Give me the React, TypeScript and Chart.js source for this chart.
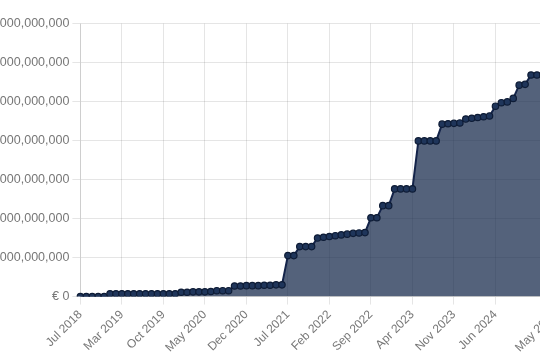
import React, { useEffect, useRef } from "react";
import { Chart, registerables } from "chart.js";

Chart.register(...registerables);

const labels: string[] = [
  "Jul 2018", "Aug 2018", "Sep 2018", "Oct 2018", "Nov 2018", "Dec 2018", "Feb 2019",
  "Mar 2019", "Apr 2019", "May 2019", "Jun 2019", "Jul 2019", "Aug 2019", "Sep 2019",
  "Oct 2019", "Nov 2019", "Dec 2019", "Jan 2020", "Feb 2020", "Mar 2020", "Apr 2020",
  "May 2020", "Jun 2020", "Jul 2020", "Aug 2020", "Sep 2020", "Oct 2020", "Nov 2020",
  "Dec 2020", "Jan 2021", "Feb 2021", "Mar 2021", "Apr 2021", "May 2021", "Jun 2021",
  "Jul 2021", "Aug 2021", "Sep 2021", "Oct 2021", "Nov 2021", "Dec 2021", "Jan 2022",
  "Feb 2022", "Mar 2022", "Apr 2022", "May 2022", "Jun 2022", "Jul 2022", "Aug 2022",
  "Sep 2022", "Oct 2022", "Nov 2022", "Dec 2022", "Jan 2023", "Feb 2023", "Mar 2023",
  "Apr 2023", "May 2023", "Jun 2023", "Jul 2023", "Aug 2023", "Sep 2023", "Oct 2023",
  "Nov 2023", "Dec 2023", "Jan 2024", "Feb 2024", "Mar 2024", "Apr 2024", "May 2024",
  "Jun 2024", "Jul 2024", "Aug 2024", "Sep 2024", "Oct 2024", "Nov 2024", "Dec 2024",
  "Jan 2025", "Feb 2025", "Apr 2025", "May 2025", "Jun 2025",
];

// labels that are shown on the x axis
const shownLabels: string[] = [
  "Jul 2018", "Mar 2019", "Oct 2019", "May 2020", "Dec 2020", "Jul 2021",
  "Feb 2022", "Sep 2022", "Apr 2023", "Nov 2023", "Jun 2024", "May 2025",
];

// values in billions of euro
const valuesBn: number[] = [
  0, 0, 0, 0, 0,
  0.07, 0.07, 0.07, 0.07, 0.07, 0.07, 0.07, 0.07, 0.07, 0.07, 0.07, 0.07,
  0.11, 0.11, 0.12, 0.12, 0.12, 0.13,
  0.15, 0.15, 0.15,
  0.27, 0.27, 0.28, 0.28, 0.28, 0.29, 0.29, 0.3, 0.3,
  1.05, 1.05,
  1.28, 1.28, 1.28,
  1.5, 1.52, 1.54, 1.56, 1.58, 1.6, 1.62, 1.63,
  1.64,
  2.02, 2.02,
  2.33, 2.33,
  2.76, 2.76, 2.76, 2.76,
  3.99, 3.99, 3.99, 3.99,
  4.42, 4.43, 4.44, 4.45,
  4.55, 4.57, 4.59, 4.61, 4.63,
  4.88,
  4.97, 4.99,
  5.08,
  5.42, 5.44,
  5.68, 5.68, 5.68, 5.68, 5.68, 5.68,
];

const values: number[] = valuesBn.map((v) => Math.round(v * 1e9));

const yMax = 7000000000;
const yStep = 1000000000;

export default function App() {
  const ref = useRef<HTMLCanvasElement | null>(null);

  useEffect(() => {
    if (!ref.current) return;
    Chart.defaults.font.family = "'Liberation Sans', Arial, Helvetica, sans-serif";
    Chart.defaults.font.size = 12;
    Chart.defaults.color = "#777";
    const chart = new Chart(ref.current, {
      type: "line",
      data: {
        labels,
        datasets: [
          {
            data: values,
            borderColor: "#14244a",
            backgroundColor: "rgba(18,38,72,0.72)",
            fill: "origin",
            tension: 0,
            borderWidth: 2,
            pointRadius: 3.2,
            pointBorderWidth: 1.2,
            pointBackgroundColor: "#1f355a",
            pointBorderColor: "#0e1c36",
          },
        ],
      },
      options: {
        animation: false,
        responsive: true,
        maintainAspectRatio: false,
        plugins: { legend: { display: false }, tooltip: { enabled: false } },
        layout: { padding: 0 },
        scales: {
          x: {
            grid: { color: "rgba(0,0,0,0.1)" },
            ticks: {
              autoSkip: false,
              minRotation: 45,
              maxRotation: 45,
              callback: (_v: any, i: number) =>
                shownLabels.includes(labels[i]) ? labels[i] : null,
            },
          },
          y: {
            min: 0,
            max: yMax,
            grid: { color: "rgba(0,0,0,0.1)" },
            ticks: {
              stepSize: yStep,
              font: { size: 12.5 },
              callback: (v: any) => "€ " + Number(v).toLocaleString("en-US"),
            },
          },
        },
      },
    });
    return () => chart.destroy();
  }, []);

  return (
    <div style={{ position: "fixed", left: 0, top: 0, width: 540, height: 360, overflow: "hidden", background: "#fff" }}>
      <div style={{ position: "absolute", left: -24, top: 13, width: 592, height: 345 }}>
        <canvas ref={ref} />
      </div>
    </div>
  );
}
